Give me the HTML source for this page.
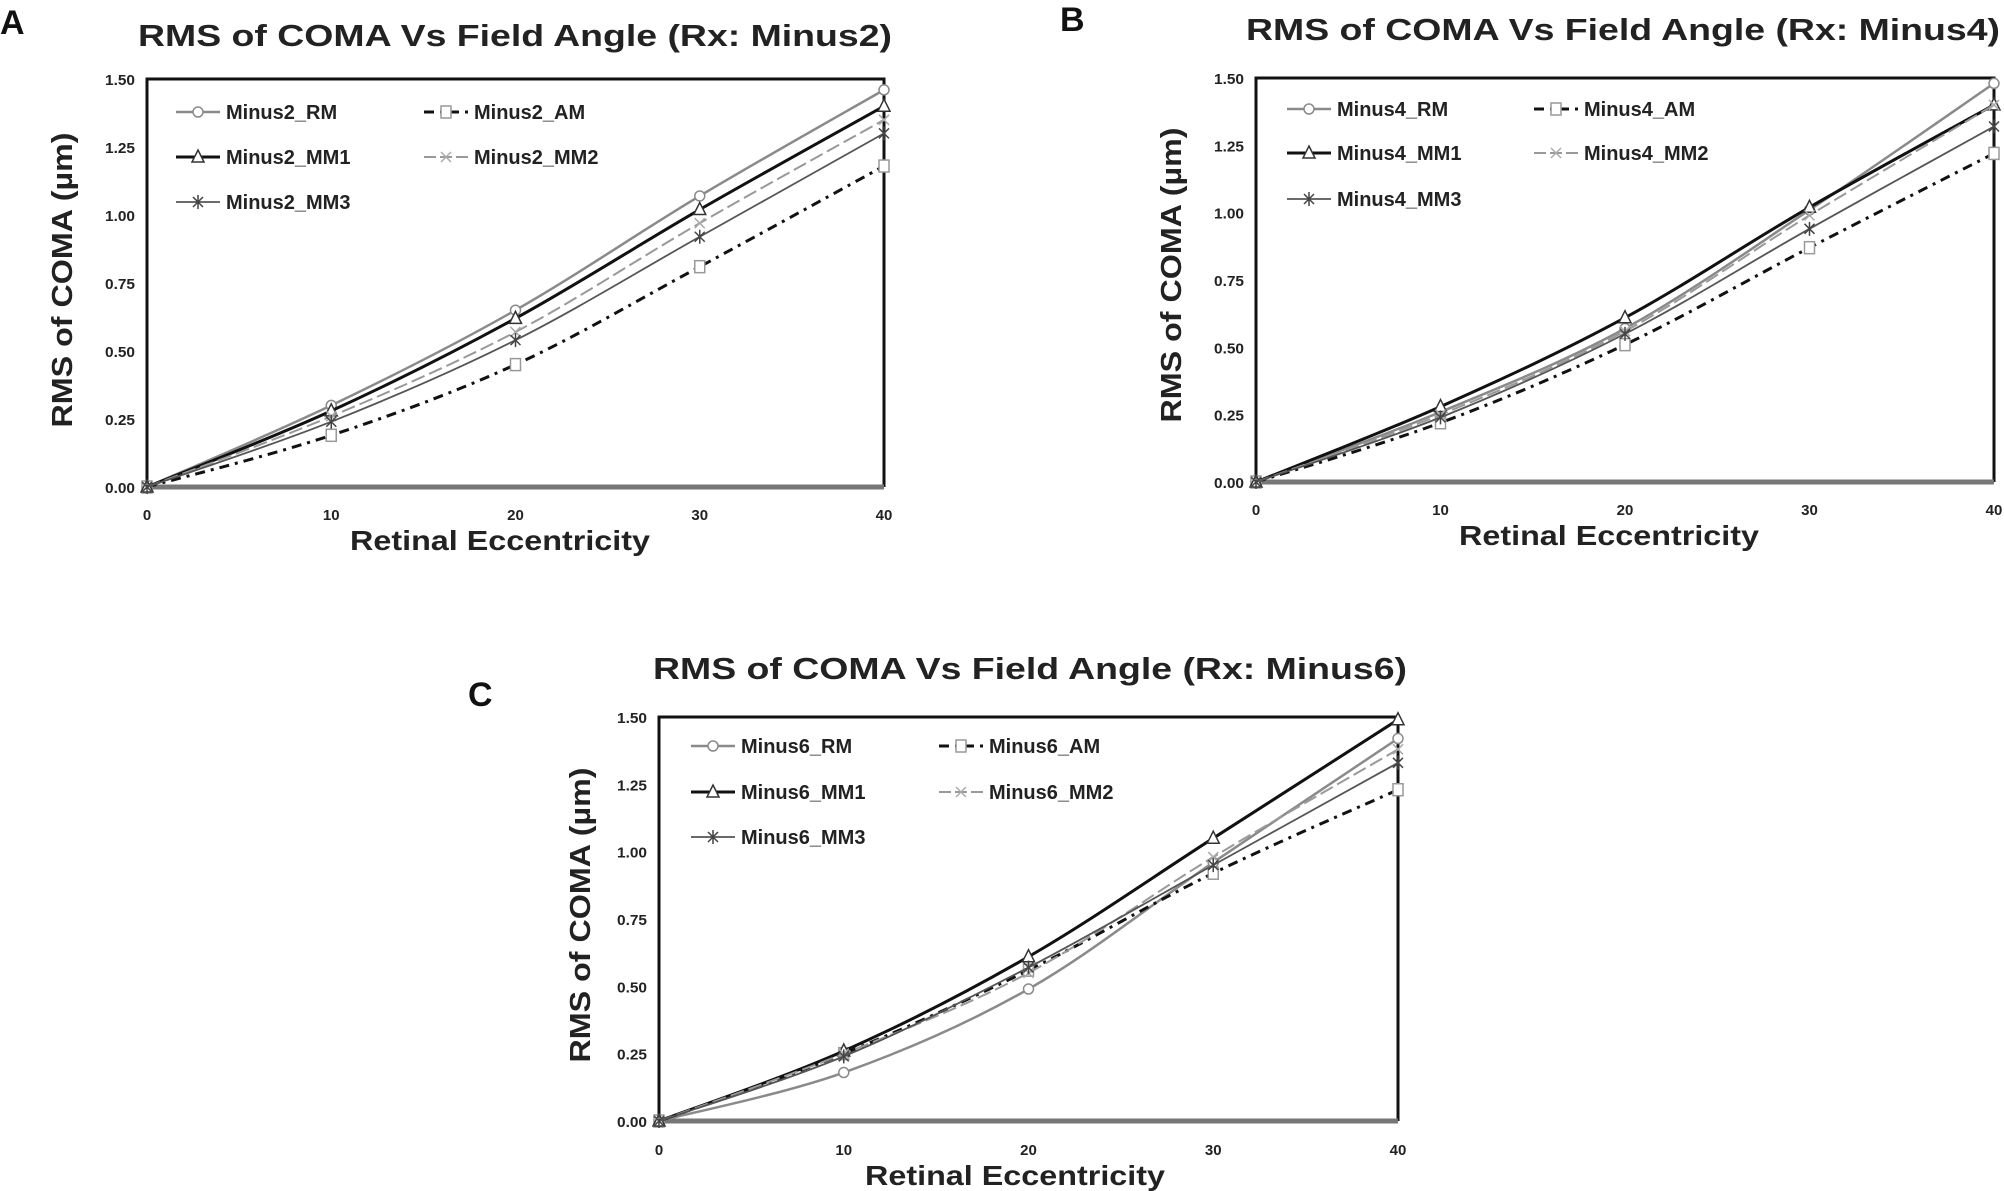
<!DOCTYPE html>
<html><head><meta charset="utf-8"><style>
html,body{margin:0;padding:0;background:#fff;}
svg{display:block;font-family:"Liberation Sans",Arial,sans-serif;}
</style></head><body>
<svg id="root" width="2004" height="1191" viewBox="0 0 2004 1191"></svg>
<script>
const xCategories = [0, 10, 20, 30, 40];
const yTicks = [0, 0.25, 0.5, 0.75, 1.0, 1.25, 1.5];
const yTickLabels = ["0.00","0.25","0.50","0.75","1.00","1.25","1.50"];
const seriesKeys = ["RM","AM","MM1","MM2","MM3"];
const aRM  = [0, 0.30, 0.65, 1.07, 1.46];
const aAM  = [0, 0.19, 0.45, 0.81, 1.18];
const aMM1 = [0, 0.28, 0.62, 1.02, 1.40];
const aMM2 = [0, 0.26, 0.57, 0.97, 1.35];
const aMM3 = [0, 0.24, 0.54, 0.92, 1.30];
const bRM  = [0, 0.26, 0.57, 1.01, 1.48];
const bAM  = [0, 0.22, 0.51, 0.87, 1.22];
const bMM1 = [0, 0.28, 0.61, 1.02, 1.40];
const bMM2 = [0, 0.25, 0.56, 0.99, 1.40];
const bMM3 = [0, 0.24, 0.55, 0.94, 1.32];
const cRM  = [0, 0.18, 0.49, 0.96, 1.42];
const cAM  = [0, 0.25, 0.56, 0.92, 1.23];
const cMM1 = [0, 0.26, 0.61, 1.05, 1.49];
const cMM2 = [0, 0.25, 0.55, 0.98, 1.38];
const cMM3 = [0, 0.24, 0.57, 0.95, 1.33];

const NS = "http://www.w3.org/2000/svg";
const root = document.getElementById('root');
function mk(tag, attrs, parent, text){
  const e = document.createElementNS(NS, tag);
  for (const k in attrs) e.setAttribute(k, attrs[k]);
  if (text !== undefined) e.textContent = text;
  (parent||root).appendChild(e);
  return e;
}
const styles = {
  RM:  {stroke:"#8a8a8a", w:2.5, dash:"", marker:"circle"},
  AM:  {stroke:"#111", w:3, dash:"10 6 3 6", marker:"square"},
  MM1: {stroke:"#111", w:3, dash:"", marker:"triangle"},
  MM2: {stroke:"#999", w:2, dash:"14 5", marker:"x"},
  MM3: {stroke:"#555", w:1.8, dash:"", marker:"star"}
};
function marker(g, type, x, y, color){
  let e;
  if (type==="circle") e = mk('circle',{cx:x,cy:y,r:5,fill:"#fff",stroke:color,'stroke-width':1.5},g);
  else if (type==="square") e = mk('rect',{x:x-5,y:y-6,width:10,height:12,fill:"#fff",stroke:"#999",'stroke-width':1.5},g);
  else if (type==="triangle") e = mk('path',{d:`M${x} ${y-7}L${x+6} ${y+5}L${x-6} ${y+5}Z`,fill:"#fff",stroke:"#333",'stroke-width':1.5},g);
  else if (type==="x") e = mk('path',{d:`M${x-5} ${y-5}L${x+5} ${y+5}M${x-5} ${y+5}L${x+5} ${y-5}`,stroke:"#aaa",'stroke-width':1.5,fill:"none"},g);
  else e = mk('path',{d:`M${x-5} ${y-5}L${x+5} ${y+5}M${x-5} ${y+5}L${x+5} ${y-5}M${x} ${y-7}L${x} ${y+7}`,stroke:"#444",'stroke-width':1.5,fill:"none"},g);
  
  
}
function spline(pts){
  let d = `M${pts[0][0]} ${pts[0][1]}`;
  for (let i=0;i<pts.length-1;i++){
    const p0=pts[Math.max(0,i-1)], p1=pts[i], p2=pts[i+1], p3=pts[Math.min(pts.length-1,i+2)];
    const c1=[p1[0]+(p2[0]-p0[0])/6, p1[1]+(p2[1]-p0[1])/6];
    const c2=[p2[0]-(p3[0]-p1[0])/6, p2[1]-(p3[1]-p1[1])/6];
    d += `C${c1[0]} ${c1[1]} ${c2[0]} ${c2[1]} ${p2[0]} ${p2[1]}`;
  }
  return d;
}
function panel(cfg){
  const g = mk('g',{});
  
  
  const {L,R,T,B} = cfg;
  const xs = v => L + (v - 0) / 40 * (R - L);
  const ys = v => B - v / 1.5 * (B - T);
  const lab = mk('text',{x:cfg.lx,y:cfg.ly,'font-size':34,'font-weight':'bold',fill:'#111'},g,cfg.letter);
   
  const t = mk('text',{x:cfg.tx,y:cfg.ty,'font-size':31,'font-weight':'bold',fill:'#222','text-anchor':'middle',textLength:cfg.tw,lengthAdjust:'spacingAndGlyphs'},g,cfg.title);
   
  // frame
  const fr = mk('path',{d:`M${L} ${B}L${L} ${T}L${R} ${T}L${R} ${B}`,fill:'none',stroke:'#111','stroke-width':3},g);
   
  const bl = mk('line',{x1:L,y1:B,x2:R,y2:B,stroke:'#777','stroke-width':5},g);
   
  yTicks.forEach((v,i)=>{
    const tl = mk('text',{x:L-12,y:ys(v)+6,'font-size':15,'font-weight':'bold','text-anchor':'end',fill:'#222',textLength:30,lengthAdjust:'spacingAndGlyphs'},g,yTickLabels[i]);
     
  });
  xCategories.forEach(v=>{
    const tl = mk('text',{x:xs(v),y:cfg.xty,'font-size':15,'font-weight':'bold','text-anchor':'middle',fill:'#222'},g,String(v));
     
  });
  const xt = mk('text',{x:cfg.xtx,y:cfg.xtty,'font-size':28,'font-weight':'bold','text-anchor':'middle',fill:'#222',textLength:300,lengthAdjust:'spacingAndGlyphs'},g,'Retinal Eccentricity');
   
  const yt = mk('text',{x:0,y:0,'font-size':29,'font-weight':'bold','text-anchor':'middle',fill:'#222',transform:`translate(${cfg.ytx},${cfg.yty}) rotate(-90)`,textLength:295,lengthAdjust:'spacingAndGlyphs'},g,'RMS of COMA (µm)');
   
  // series
  seriesKeys.forEach((k,si)=>{
    const vals = cfg.data[si], st = styles[k];
    const pts = vals.map((v,i)=>[xs(xCategories[i]), ys(v)]);
    const p = mk('path',{d:spline(pts),fill:'none',stroke:st.stroke,'stroke-width':st.w,'stroke-dasharray':st.dash},g);
    
    
    pts.forEach(q=>marker(g, st.marker, q[0], q[1], st.stroke));
  });
  // legend
  const pos = [[0,0],[1,0],[0,1],[1,1],[0,2]];
  seriesKeys.forEach((k,si)=>{
    const st = styles[k];
    const lx = cfg.legX[pos[si][0]], ly = cfg.legY[pos[si][1]];
    const lg = mk('g',{},g);
    
    
    mk('line',{x1:lx,y1:ly,x2:lx+44,y2:ly,stroke:st.stroke,'stroke-width':st.w,'stroke-dasharray':st.dash==="10 6 3 6"?"10 6 3 6":(st.dash?"12 4":"")},lg);
    marker(lg, st.marker, lx+22, ly, st.stroke);
    mk('text',{x:lx+50,y:ly+7,'font-size':20,'font-weight':'bold',fill:'#222'},lg,cfg.prefix + '_' + k);
  });
}
panel({letter:'A',lx:0,ly:34,title:'RMS of COMA Vs Field Angle (Rx: Minus2)',tx:515,ty:46,tw:754,
  L:147,R:884,T:79,B:487,xty:520,xtx:500,xtty:550,ytx:72,yty:280,
  legX:[176,424],legY:[112,157,202],prefix:'Minus2',data:[aRM,aAM,aMM1,aMM2,aMM3]});
panel({letter:'B',lx:1060,ly:31,title:'RMS of COMA Vs Field Angle (Rx: Minus4)',tx:1623,ty:40,tw:754,
  L:1256,R:1994,T:78,B:482,xty:515,xtx:1609,xtty:545,ytx:1181,yty:275,
  legX:[1287,1534],legY:[109,153,199],prefix:'Minus4',data:[bRM,bAM,bMM1,bMM2,bMM3]});
panel({letter:'C',lx:468,ly:706,title:'RMS of COMA Vs Field Angle (Rx: Minus6)',tx:1030,ty:679,tw:754,
  L:659,R:1398,T:717,B:1121,xty:1155,xtx:1015,xtty:1185,ytx:590,yty:915,
  legX:[691,939],legY:[746,792,837],prefix:'Minus6',data:[cRM,cAM,cMM1,cMM2,cMM3]});
</script>
</body></html>
